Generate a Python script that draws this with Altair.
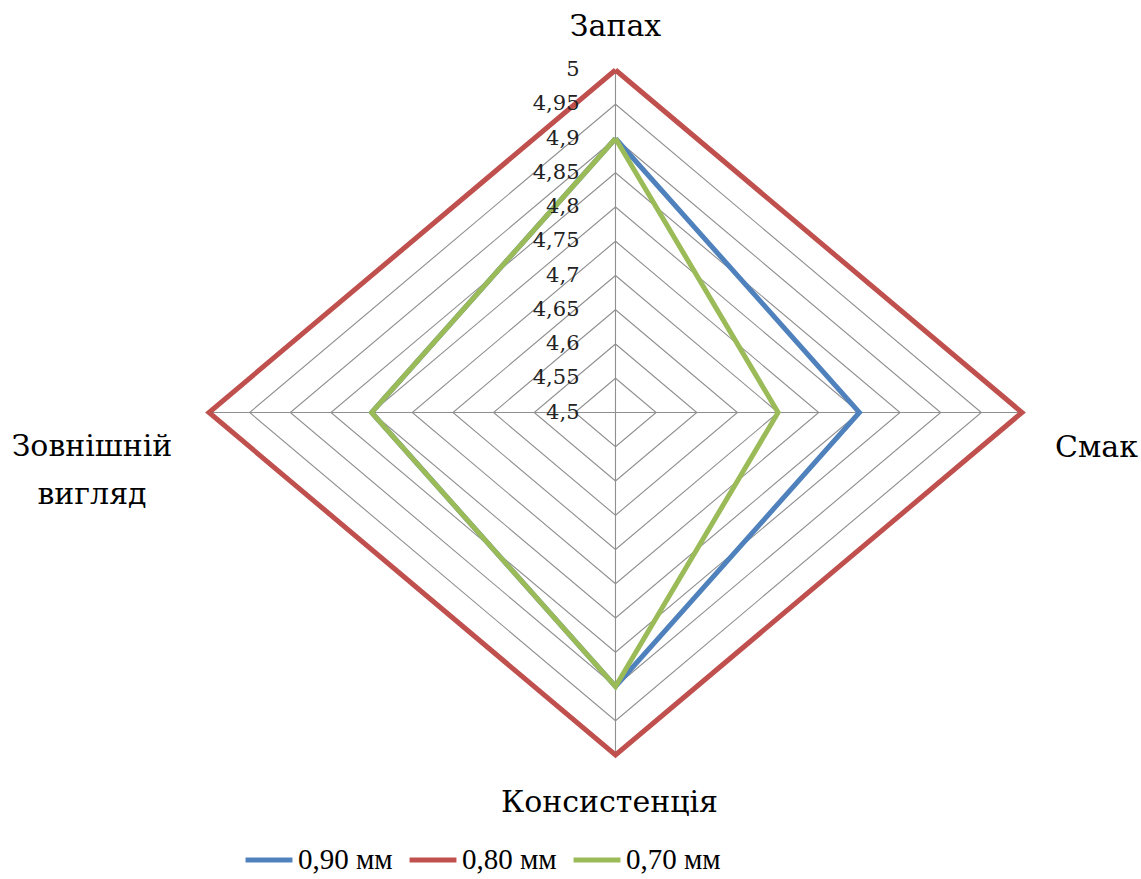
import altair as alt
import pandas as pd

# Sensory profile: four attributes scored on a 4.5–5 scale
categories = ["Запах", "Смак", "Консистенція", "Зовнішній вигляд"]
angles_deg = [0, 90, 180, 270]  # clockwise from the top spoke

series_names = ["0,90 мм", "0,80 мм", "0,70 мм"]
values_090 = [4.9, 4.8, 4.9, 4.8]
values_080 = [5.0, 5.0, 5.0, 5.0]
values_070 = [4.9, 4.7, 4.9, 4.8]

ring_levels = [4.5, 4.55, 4.6, 4.65, 4.7, 4.75, 4.8, 4.85, 4.9, 4.95, 5.0]
axis_min = 4.5
axis_max = 5.0

series_colors = ["#4F81BD", "#C0504D", "#9BBB59"]
serif = "DejaVu Serif"
legend_font = "Liberation Serif, DejaVu Serif, serif"

# ---- tables built from the lists above ----
rows = []
for name, vals in zip(series_names, [values_090, values_080, values_070]):
    for i in range(len(categories) + 1):  # repeat the first point to close the shape
        k = i % len(categories)
        rows.append({"series": name, "category": categories[k],
                     "angle": angles_deg[k], "value": vals[k], "order": i})
series_df = pd.DataFrame(rows)

ring_rows = []
for lvl in ring_levels:
    for i in range(len(categories) + 1):
        k = i % len(categories)
        ring_rows.append({"level": lvl, "angle": angles_deg[k], "value": lvl, "order": i})
ring_df = pd.DataFrame(ring_rows)

spoke_rows = []
for c, a in zip(categories, angles_deg):
    spoke_rows.append({"category": c, "angle": a, "value": axis_min, "order": 0})
    spoke_rows.append({"category": c, "angle": a, "value": axis_max, "order": 1})
spoke_df = pd.DataFrame(spoke_rows)

tick_df = pd.DataFrame({"value": ring_levels, "angle": [0] * len(ring_levels)})
label_df = pd.DataFrame({"category": categories, "angle": angles_deg,
                         "value": [axis_max] * len(categories)})

half = axis_max - axis_min
xs = alt.Scale(domain=[-half, half], nice=False, zero=False)
ys = alt.Scale(domain=[-half, half], nice=False, zero=False)


def polar(chart):
    return chart.transform_calculate(
        r=f"datum.value - {axis_min}",
    ).transform_calculate(
        px="datum.r * sin(datum.angle * PI / 180)",
        py="datum.r * cos(datum.angle * PI / 180)",
    )


X = alt.X("px:Q", scale=xs, axis=None)
Y = alt.Y("py:Q", scale=ys, axis=None)

grid_color = "#8f8f8f"

rings = polar(alt.Chart(ring_df)).mark_line(
    color=grid_color, strokeWidth=1.1
).encode(x=X, y=Y, detail="level:N", order="order:Q")

spokes = polar(alt.Chart(spoke_df)).mark_line(
    color=grid_color, strokeWidth=1.1
).encode(x=X, y=Y, detail="category:N", order="order:Q")

color_scale = alt.Scale(domain=series_names, range=series_colors)
legend = alt.Legend(
    orient="none", legendX=34, legendY=764, direction="horizontal", title=None,
    symbolType="stroke", symbolStrokeWidth=5, symbolSize=2200,
    labelFont=legend_font, labelFontSize=29, labelColor="black",
    columnPadding=6, labelOffset=3, symbolOffset=0,
)


def series_layer(name, show_legend):
    return polar(alt.Chart(series_df)).transform_filter(
        alt.datum.series == name
    ).mark_line(strokeWidth=5, strokeJoin="miter").encode(
        x=X, y=Y, order="order:Q",
        color=alt.Color("series:N", scale=color_scale,
                        legend=legend if show_legend else None),
    )


lines = [series_layer(n, i == 0) for i, n in enumerate(series_names)]

ticks = polar(alt.Chart(tick_df)).transform_calculate(
    txt="replace(format(datum.value, '.2~f'), '.', ',')"
).mark_text(
    align="right", baseline="middle", dx=-36, font=serif, fontSize=21, color="#222222"
).encode(x=X, y=Y, text="txt:N")


def cat_label(name, text, **kw):
    return polar(alt.Chart(label_df)).transform_filter(
        alt.datum.category == name
    ).mark_text(font=serif, fontSize=30, color="black", baseline="middle", **kw).encode(
        x=X, y=Y, text=alt.value(text)
    )


labels = [
    cat_label("Запах", "Запах", align="center", dy=-43),
    cat_label("Смак", "Смак", align="left", dx=33, dy=35),
    cat_label("Консистенція", "Консистенція", align="center", dy=48, dx=-6),
    cat_label("Зовнішній вигляд", ["Зовнішній", "вигляд"], align="center",
              dx=-117, dy=34, lineHeight=48),
]

chart = alt.layer(rings, spokes, *lines, ticks, *labels).properties(
    width=813, height=685,
    autosize=alt.AutoSizeParams(type="none"),
    padding={"left": 209, "top": 70, "right": 119, "bottom": 124},
).configure(background="white").configure_view(stroke=None)

chart.save("out.html", embed_options={"renderer": "svg", "actions": False})
